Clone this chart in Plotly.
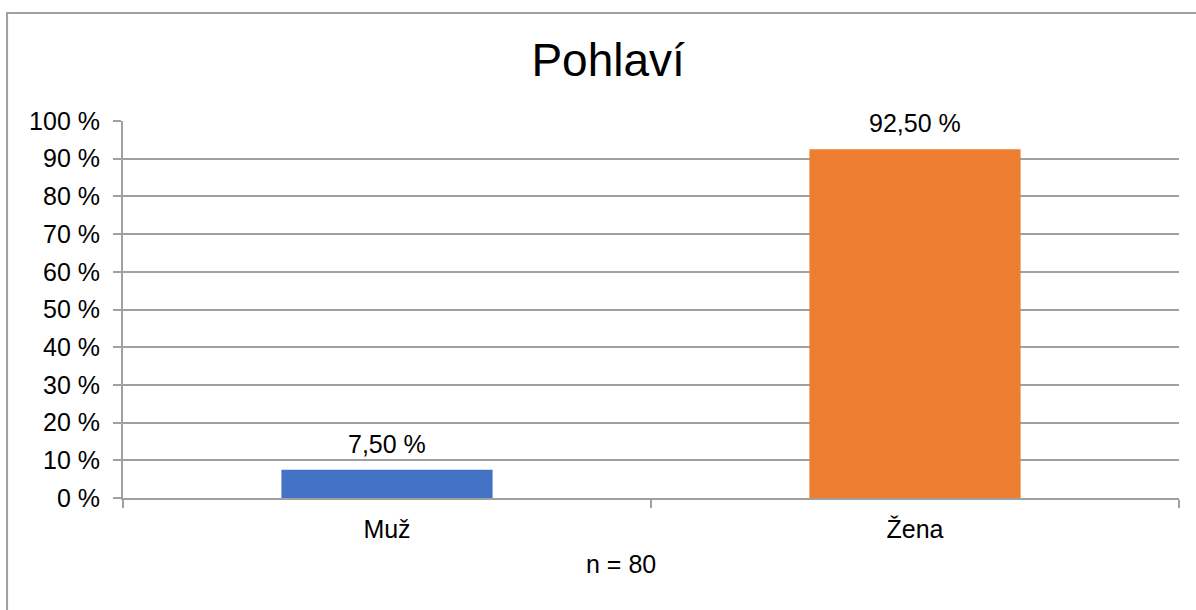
import plotly.graph_objects as go

categories = ["Muž", "Žena"]
values = [7.5, 92.5]
colors = ["#4472C4", "#ED7D31"]
y_ticks = [0, 10, 20, 30, 40, 50, 60, 70, 80, 90, 100]
n_text = "n = 80"

fig = go.Figure()
fig.add_trace(go.Bar(
    x=categories, y=values, marker_color=colors, marker_line_width=0,
    width=0.4, hoverinfo="skip",
))

# popisky hodnot nad sloupci
for c, v in zip(categories, values):
    fig.add_annotation(x=c, y=v, text=f"{v:.2f} %".replace(".", ","), showarrow=False,
                       yanchor="bottom", yshift=10, font=dict(size=25, color="#000"))

# poznámka s počtem respondentů (trochu vlevo od středu jako v originále)
fig.add_annotation(x=0.4716, y=-0.175, xref="paper", yref="paper", text=n_text,
                   showarrow=False, xanchor="center", yanchor="middle",
                   font=dict(size=25, color="#000"))

# rámeček kolem grafu
fig.add_shape(type="rect", xref="paper", yref="paper", x0=-0.1098, x1=1.05, y0=-0.4, y1=1.2865,
              line=dict(color="#a0a0a0", width=2), layer="below")

fig.update_layout(
    width=1196, height=610,
    margin=dict(l=123, r=17, t=121, b=112),
    paper_bgcolor="white", plot_bgcolor="white",
    font=dict(family="Liberation Sans, Arial", color="#000"),
    title=dict(text="Pohlaví", x=0.5085, xanchor="center", y=1 - 60 / 610, yanchor="middle",
               font=dict(size=46, color="#000")),
    separators=", ",
    showlegend=False,
    xaxis=dict(
        showline=True, linecolor="#a0a0a0", linewidth=2,
        ticks="outside", tickson="boundaries", ticklen=8, tickcolor="#a0a0a0", tickwidth=2,
        tickfont=dict(size=25), showgrid=False, ticklabelstandoff=8,
    ),
    yaxis=dict(
        range=[0, 100], tickvals=y_ticks, ticktext=[f"{t} %" for t in y_ticks],
        showline=True, linecolor="#a0a0a0", linewidth=2,
        ticks="outside", ticklen=8, tickcolor="#a0a0a0", tickwidth=2,
        showgrid=True, gridcolor="#a0a0a0", gridwidth=2, zeroline=False,
        tickfont=dict(size=25), ticklabelstandoff=8,
    ),
)

fig.write_html("out.html", config={"displayModeBar": False},
               post_script="document.body.style.margin='0';")
